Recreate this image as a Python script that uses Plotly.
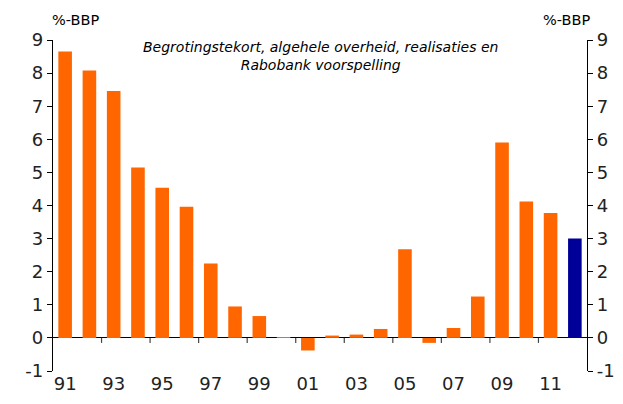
import plotly.graph_objects as go

years = list(range(1991, 2013))
deficit = [8.65, 8.08, 7.46, 5.15, 4.54, 3.96, 2.25, 0.95, 0.66, 0.02, -0.38,
           0.07, 0.1, 0.27, 2.68, -0.15, 0.3, 1.25, 5.9, 4.12, 3.77, 3.0]
is_forecast = [False] * 21 + [True]
tick_years = list(range(1991, 2012, 2))
tick_labels = [f"{y % 100:02d}" for y in tick_years]
y_ticks = list(range(-1, 10))
y_labels = [str(v) for v in y_ticks]

ORANGE = "#FF6600"
NAVY = "#000099"
colors = [NAVY if f else ORANGE for f in is_forecast]

FONT = "DejaVu Sans, Verdana, sans-serif"

fig = go.Figure()
fig.add_trace(go.Bar(x=years, y=deficit, marker=dict(color=colors, line=dict(width=0)),
                     width=0.56, hoverinfo="x+y", showlegend=False))
fig.add_trace(go.Scatter(x=[years[0]], y=[deficit[0]], yaxis="y2", mode="markers",
                         marker=dict(opacity=0), hoverinfo="skip", showlegend=False))

yax = dict(range=[-1, 9], tickvals=y_ticks, ticktext=y_labels, showline=True,
           linecolor="black", linewidth=1.3, automargin=False,
           ticks="outside", ticklen=5, tickcolor="black", tickwidth=1.2,
           showgrid=False, tickfont=dict(family=FONT, size=18, color="#222"))
fig.update_layout(
    width=615, height=396,
    margin=dict(l=45, r=36, t=32, b=33),
    paper_bgcolor="white", plot_bgcolor="white",
    xaxis=dict(range=[1990.5, 2012.5], tickvals=tick_years, ticktext=tick_labels,
               ticks="", showline=False, showgrid=False, zeroline=False, automargin=False,
               tickfont=dict(family=FONT, size=18, color="#222")),
    yaxis=dict(**yax, zeroline=True, zerolinecolor="black", zerolinewidth=1.3),
    yaxis2=dict(**yax, overlaying="y", side="right", zeroline=False),
)

for yr in range(1992, 2011, 2):
    fig.add_shape(type="line", xref="x", yref="y", x0=yr + 0.5, x1=yr + 0.5,
                  ysizemode="pixel", yanchor=0, y0=0, y1=-5,
                  line=dict(color="#444", width=1.2))

fig.add_annotation(text="%-BBP", xref="paper", yref="paper", x=0, y=1, xshift=-3, yshift=20,
                   xanchor="left", yanchor="middle", showarrow=False,
                   font=dict(family=FONT, size=14.5, color="black"))
fig.add_annotation(text="%-BBP", xref="paper", yref="paper", x=1, y=1, xshift=5, yshift=20,
                   xanchor="right", yanchor="middle", showarrow=False,
                   font=dict(family=FONT, size=14.5, color="black"))
fig.add_annotation(text="<i>Begrotingstekort, algehele overheid, realisaties en<br>Rabobank voorspelling</i>",
                   xref="paper", yref="paper", x=0.5, y=1, yshift=3, xanchor="center", yanchor="top",
                   showarrow=False, align="center",
                   font=dict(family=FONT, size=14, color="black"))

fig.write_html("out.html")
